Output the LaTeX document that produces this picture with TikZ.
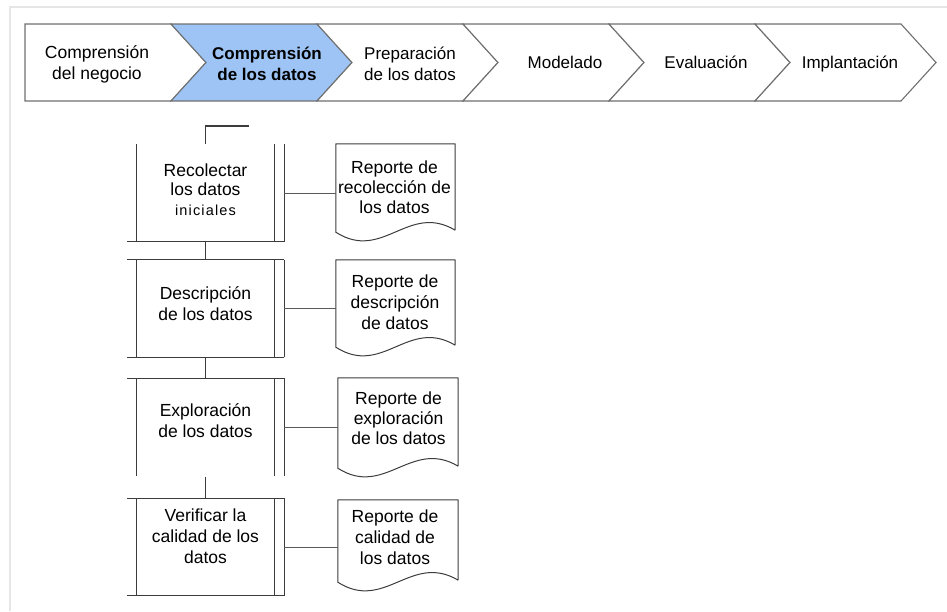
\documentclass[tikz,border=0pt]{standalone}
\usepackage{fontspec}
\setmainfont{Liberation Sans}
\definecolor{phaseblue}{RGB}{157,196,245}
\definecolor{chevline}{RGB}{112,112,112}
\definecolor{boxline}{RGB}{60,60,60}
\definecolor{frameline}{RGB}{230,230,230}
\begin{document}
\begin{tikzpicture}[x=1pt,y=-1pt,
  phase/.style={draw=chevline, line width=1.1pt, line join=miter, fill=white},
  phaseact/.style={phase, fill=phaseblue},
  plbl/.style={align=center, inner sep=0pt, font=\fontsize{17}{21}\selectfont},
  txt/.style={align=center, inner sep=0pt, font=\fontsize{17.5}{21}\selectfont},
  frame/.style={minimum width=137pt, minimum height=97pt, inner sep=0pt},
  edge/.style={draw=boxline, line width=1.1pt},
  link/.style={draw=boxline!85, line width=1pt},
  docframe/.style={inner sep=0pt}
]
\useasboundingbox (0,0) rectangle (947,611);

% light page frame
\draw[frameline, line width=1.5pt] (10,611) -- (10,7) -- (947,7);

% phase chevrons
\draw[phase]    (25,24)  -- (171,24) -- (206,62.5) -- (171,101) -- (25,101) -- cycle;
\draw[phaseact] (171,24) -- (317,24) -- (352,62.5) -- (317,101) -- (171,101) -- (206,62.5) -- cycle;
\draw[phase]    (317,24) -- (463,24) -- (498,62.5) -- (463,101) -- (317,101) -- (352,62.5) -- cycle;
\draw[phase]    (463,24) -- (609,24) -- (644,62.5) -- (609,101) -- (463,101) -- (498,62.5) -- cycle;
\draw[phase]    (609,24) -- (755,24) -- (790,62.5) -- (755,101) -- (609,101) -- (644,62.5) -- cycle;
\draw[phase]    (755,24) -- (901,24) -- (936,62.5) -- (901,101) -- (755,101) -- (790,62.5) -- cycle;

\node[plbl, font=\fontsize{17.5}{21}\selectfont] (p1) at (97,64)  {Comprensión\\del negocio};
\node[plbl, font=\fontsize{17}{21}\selectfont\bfseries] (p2) at (267,64) {Comprensión\\de los datos};
\node[plbl] (p3) at (410,64) {Preparación\\de los datos};
\node[plbl, anchor=base] (p4) at (565,68) {Modelado};
\node[plbl, anchor=base] (p5) at (706,68) {Evaluación};
\node[plbl, anchor=base] (p6) at (850,68) {Implantación};

% task frames (drawn edge by edge below)
\node[frame] (b1) at (205.5,193)   {};
\node[frame] (b2) at (205.5,308.5) {};
\node[frame] (b3) at (205.5,427)   {};
\node[frame] (b4) at (205.5,547)   {};

% side edges and double right edge of every task
\foreach \b in {b1,b2,b3,b4}{
  \draw[edge] (\b.north west) -- (\b.south west);
  \draw[edge] (\b.north east) -- (\b.south east);
  \draw[edge] ([xshift=10pt]\b.north east) -- ([xshift=10pt]\b.south east);
}
% horizontal edges, reaching a little past the left side
\draw[edge] ([xshift=-10pt]b1.south west) -- ([xshift=10pt]b1.south east);
\draw[edge] ([xshift=-10pt]b2.north west) -- ([xshift=10pt]b2.north east);
\draw[edge] ([xshift=-10pt]b2.south west) -- ([xshift=10pt]b2.south east);
\draw[edge] ([xshift=-10pt]b3.north west) -- ([xshift=10pt]b3.north east);
\draw[edge] ([xshift=-10pt]b4.north west) -- ([xshift=10pt]b4.north east);
\draw[edge] ([xshift=-10pt]b4.south west) -- ([xshift=10pt]b4.south east);

\node[txt, font=\fontsize{17.5}{19.5}\selectfont] (t1) at (205.5,189.5)
  {Recolectar\\los datos\\{\fontsize{14.5}{19.5}\selectfont\addfontfeature{LetterSpace=8}iniciales}};
\node[txt] (t2) at (205.5,304) {Descripción\\de los datos};
\node[txt] (t3) at (205.5,421) {Exploración\\de los datos};
\node[txt] (t4) at (205.5,536) {Verificar la\\calidad de los\\datos};

% flow between tasks
\coordinate (entry) at (249,126);
\draw[edge] (b1.north) |- (entry);
\draw[edge] (b1.south) -- (b2.north);
\draw[edge] (b2.south) -- (b3.north);
\draw[edge] ([yshift=-1pt]b3.south) -- (b4.north);

% report documents
\node[docframe, minimum width=119pt, minimum height=88pt] (d1) at (395.5,188)   {};
\node[docframe, minimum width=119pt, minimum height=87pt] (d2) at (395.5,303.5) {};
\node[docframe, minimum width=120pt, minimum height=90pt] (d3) at (398,423)     {};
\node[docframe, minimum width=120pt, minimum height=82pt] (d4) at (398,541)     {};

\foreach \d in {d1,d2,d3,d4}{
  \draw[edge, line width=1pt, line join=round]
    ([yshift=2pt]\d.south east) -- (\d.north east) -- (\d.north west) -- (\d.south west)
    .. controls +(47,30) and +(-47,-28) .. ([yshift=2pt]\d.south east);
}

\node[txt, font=\fontsize{17.5}{20}\selectfont] (r1) at (394.5,187) {Reporte de\\recolección de\\los datos};
\node[txt] (r2) at (395,302) {Reporte de\\descripción\\de datos};
\node[txt, font=\fontsize{17.5}{20}\selectfont] (r3) at (398.5,418) {Reporte de\\exploración\\de los datos};
\node[txt] (r4) at (395,537) {Reporte de\\calidad de\\los datos};

% task to report links
\draw[link] ([xshift=10pt]b1.east) -- (b1.east -| d1.west);
\draw[link] ([xshift=10pt]b2.east) -- (b2.east -| d2.west);
\draw[link] ([xshift=10pt]b3.east) -- (b3.east -| d3.west);
\draw[link] ([xshift=10pt]b4.east) -- (b4.east -| d4.west);
\end{tikzpicture}
\end{document}
